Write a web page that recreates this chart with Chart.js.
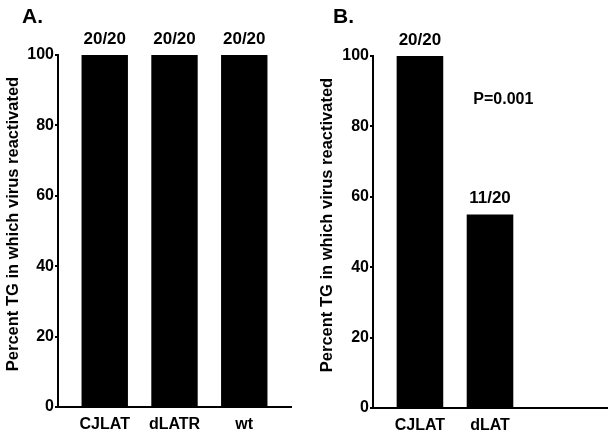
<!DOCTYPE html>
<html>
<head>
<meta charset="utf-8">
<script src="https://cdn.jsdelivr.net/npm/chart.js@4.4.0/dist/chart.umd.min.js"></script>
<style>
  body { margin: 0; background: #fff; }
  #wrap { position: relative; width: 613px; height: 433px; }
  canvas { position: absolute; top: 0; }
  #chartA { left: 0; }
  #chartB { left: 300px; }
</style>
</head>
<body>
<div id="wrap">
  <canvas id="chartA" width="300" height="433"></canvas>
  <canvas id="chartB" width="313" height="433"></canvas>
</div>
<script>
// Panel A
const categoriesA = ['CJLAT', 'dLATR', 'wt'];
const valuesA = [100, 100, 100];
const countsA = ['20/20', '20/20', '20/20'];

// Panel B
const categoriesB = ['CJLAT', 'dLAT'];
const valuesB = [100, 55];
const countsB = ['20/20', '11/20'];
const pValueB = 'P=0.001';

const yTicks = [0, 20, 40, 60, 80, 100];
const yTitle = 'Percent TG in which virus reactivated';

const FAMILY = '"Liberation Sans", Arial, Helvetica, sans-serif';
const tickFont = { family: FAMILY, size: 16, weight: 'bold' };

// counts above the bars, panel letter, y title and the p value
const barLabels = {
  id: 'barLabels',
  afterDatasetsDraw(chart, args, opts) {
    const ctx = chart.ctx;
    const area = chart.chartArea;
    const meta = chart.getDatasetMeta(0);
    ctx.save();
    ctx.fillStyle = '#000';
    ctx.font = 'bold 17px ' + FAMILY;
    ctx.textAlign = 'center';
    ctx.textBaseline = 'alphabetic';
    meta.data.forEach((bar, i) => {
      ctx.fillText(opts.counts[i], bar.x, bar.y - 11);
    });

    ctx.font = 'bold 21px ' + FAMILY;
    ctx.textAlign = 'left';
    ctx.fillText(opts.letter, opts.letterX, 23);

    if (opts.note) {
      ctx.font = 'bold 16px ' + FAMILY;
      ctx.textAlign = 'center';
      ctx.textBaseline = 'middle';
      const x = chart.scales.x.getPixelForValue(opts.note.x);
      const y = chart.scales.y.getPixelForValue(opts.note.y);
      ctx.fillText(opts.note.text, x, y);
    }

    // rotated y axis title
    ctx.translate(opts.titleX, (area.top + area.bottom) / 2 - 7);
    ctx.rotate(-Math.PI / 2);
    ctx.font = 'bold 16.5px ' + FAMILY;
    ctx.textAlign = 'center';
    ctx.textBaseline = 'middle';
    ctx.fillText(yTitle, 0, 0);
    ctx.restore();
  }
};

function makeChart(id, categories, values, counts, panel) {
  return new Chart(document.getElementById(id), {
    type: 'bar',
    data: {
      datasets: [{
        data: values.map((v, i) => ({ x: i + 1, y: v })),
        backgroundColor: '#000',
        borderWidth: 0,
        barPercentage: 0.665,
        categoryPercentage: 1
      }]
    },
    options: {
      responsive: false,
      animation: false,
      layout: { padding: { left: panel.padLeft, right: panel.padRight, top: panel.padTop, bottom: 0 } },
      plugins: {
        legend: { display: false },
        tooltip: { enabled: false },
        barLabels: {
          counts: counts,
          letter: panel.letter,
          letterX: panel.letterX,
          titleX: panel.titleX,
          note: panel.note
        }
      },
      scales: {
        x: {
          type: 'linear',
          offset: false,
          min: 0.33,
          max: 3.67,
          grid: { display: false, drawTicks: false, tickLength: 0 },
          border: { display: true, color: '#000', width: 2 },
          afterBuildTicks: s => { s.ticks = categories.map((c, i) => ({ value: i + 1 })); },
          afterFit: s => { s.height = panel.xHeight; },
          ticks: {
            callback: v => categories[v - 1],
            color: '#000',
            font: tickFont,
            padding: 8,
            maxRotation: 0,
            autoSkip: false
          }
        },
        y: {
          min: 0,
          max: 100,
          afterBuildTicks: s => { s.ticks = yTicks.map(v => ({ value: v })); },
          afterFit: s => { s.width = panel.yWidth; },
          grid: { drawOnChartArea: false, color: '#000', lineWidth: 2, tickLength: 3 },
          border: { display: true, color: '#000', width: 2 },
          ticks: { color: '#000', font: tickFont, padding: 1 }
        }
      }
    },
    plugins: [barLabels]
  });
}

makeChart('chartA', categoriesA, valuesA, countsA, {
  padLeft: 0, padRight: 9, padTop: 55, yWidth: 58, xHeight: 26,
  letter: 'A.', letterX: 22, titleX: 13
});

makeChart('chartB', categoriesB, valuesB, countsB, {
  padLeft: 12, padRight: 6, padTop: 56, yWidth: 61, xHeight: 25,
  letter: 'B.', letterX: 33, titleX: 27,
  note: { text: pValueB, x: 2.19, y: 87.5 }
});
</script>
</body>
</html>
